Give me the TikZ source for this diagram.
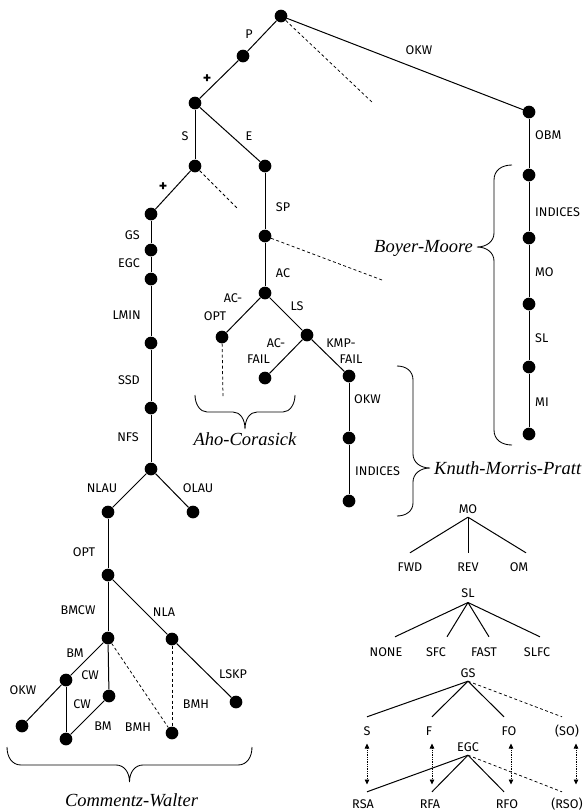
\documentclass[tikz,border=0pt]{standalone}
\usepackage{fontspec}
\newfontfamily\lab{Fira Sans}
\newfontfamily\algfont{Liberation Serif}
\usetikzlibrary{arrows.meta,calc}
\begin{document}
\begin{tikzpicture}[x=1pt,y=-1pt,
  dot/.style={circle,fill,inner sep=0pt,minimum size=12.7pt},
  edge/.style={line width=1pt},
  dsh/.style={line width=0.75pt,dash pattern=on 3pt off 2.5pt},
  lbl/.style={font=\lab\fontsize{12.6}{14}\selectfont,inner sep=0pt},
  plus/.style={font=\lab\fontsize{16}{18}\selectfont\bfseries,inner sep=0pt},
  tn/.style={lbl,text height=8.6pt,text depth=0pt},
  alg/.style={font=\algfont\fontsize{18.5}{21}\selectfont\itshape,inner sep=0pt},
  brc/.style={line width=0.85pt},
  dbl/.style={densely dotted,line width=0.75pt,{Triangle[length=5pt,width=4.5pt]}-{Triangle[length=5pt,width=4.5pt]}}
]
\useasboundingbox (0,0) rectangle (584,812);

% ---------- main tree dots ----------
\node[dot] (r) at (281,16) {};
\node[dot] (nP) at (243,56) {};
\node[dot] (nPlus) at (195,103) {};
\node[dot] (nS) at (195,166) {};
\node[dot] (nE) at (265,166) {};
\node[dot] (nOBM) at (529,112) {};
\node[dot] (nB1) at (529,175) {};
\node[dot] (nB2) at (529,238) {};
\node[dot] (nB3) at (529,304) {};
\node[dot] (nB4) at (529,367) {};
\node[dot] (nB5) at (529,434) {};
\node[dot] (nStar) at (151,214) {};
\node[dot] (nGS) at (151,250) {};
\node[dot] (nEGC) at (151,279) {};
\node[dot] (nLMIN) at (151,343) {};
\node[dot] (nSSD) at (151,408) {};
\node[dot] (nNFS) at (151,469) {};
\node[dot] (nSP) at (265,236) {};
\node[dot] (nAC) at (265,293) {};
\node[dot] (nACOPT) at (222,337) {};
\node[dot] (nLS) at (307,335) {};
\node[dot] (nACFAIL) at (265,378) {};
\node[dot] (nKMPFAIL) at (349,376) {};
\node[dot] (nKOKW) at (349,438) {};
\node[dot] (nKIND) at (349,501) {};
\node[dot] (nNLAU) at (108,512) {};
\node[dot] (nOLAU) at (193,512) {};
\node[dot] (nOPT) at (108,575) {};
\node[dot] (nBMCW) at (108,638) {};
\node[dot] (nNLA) at (172,639) {};
\node[dot] (nBM) at (66,680) {};
\node[dot] (nCW) at (109,696) {};
\node[dot] (nOKWL) at (22,726) {};
\node[dot] (nCWBM) at (66,739) {};
\node[dot] (nBMH) at (172,733) {};
\node[dot] (nLSKP) at (236,702) {};

\coordinate (d1) at (373,103);
\coordinate (d2) at (237,208);
\coordinate (d3) at (382,280);
\coordinate (d4) at (223,397);

% ---------- main tree edges ----------
\draw[edge] (r) -- (nP);
\draw[edge] (nP) -- (nPlus);
\draw[edge] (nPlus) -- (nS);
\draw[edge] (nPlus) -- (nE);
\draw[edge] (r) -- (nOBM);
\draw[dsh] (r) -- (d1);
\draw[edge] (nOBM) -- (nB1) -- (nB2) -- (nB3) -- (nB4) -- (nB5);
\draw[edge] (nS) -- (nStar);
\draw[dsh] (nS) -- (d2);
\draw[edge] (nStar) -- (nGS) -- (nEGC) -- (nLMIN) -- (nSSD) -- (nNFS);
\draw[edge] (nE) -- (nSP);
\draw[dsh] (nSP) -- (d3);
\draw[edge] (nSP) -- (nAC);
\draw[edge] (nAC) -- (nACOPT);
\draw[edge] (nAC) -- (nLS);
\draw[dsh] (nACOPT) -- (d4);
\draw[edge] (nLS) -- (nACFAIL);
\draw[edge] (nLS) -- (nKMPFAIL);
\draw[edge] (nKMPFAIL) -- (nKOKW) -- (nKIND);
\draw[edge] (nNFS) -- (nNLAU);
\draw[edge] (nNFS) -- (nOLAU);
\draw[edge] (nNLAU) -- (nOPT);
\draw[edge] (nOPT) -- (nBMCW);
\draw[edge] (nOPT) -- (nNLA);
\draw[edge] (nBMCW) -- (nBM);
\draw[edge] (nBMCW) -- (nCW);
\draw[dsh] (nBMCW) -- (nBMH);
\draw[dsh] (nNLA) -- (nBMH);
\draw[edge] (nNLA) -- (nLSKP);
\draw[edge] (nBM) -- (nOKWL);
\draw[edge] (nBM) -- (nCWBM);
\draw[edge] (nCW) -- (nCWBM);

% ---------- edge labels ----------
\node[lbl] (lP) at (249,34) {P};
\node[plus] (lPlus1) at (207,79) {+};
\node[lbl] (lS) at (185,136) {S};
\node[lbl] (lE) at (249,136) {E};
\node[lbl] (lOKW) at (419,50) {OKW};
\node[plus] (lPlus2) at (163,187) {+};
\node[lbl] (lSP) at (283,207) {SP};
\node[lbl] (lAC) at (283,273) {AC};
\node[lbl] (lAC1) at (233,298) {AC-};
\node[lbl] (lOPT1) at (215,316) {OPT};
\node[lbl] (lLS) at (297,306) {LS};
\node[lbl] (lAC2) at (276,343) {AC-};
\node[lbl] (lFAIL1) at (258.5,359) {FAIL};
\node[lbl] (lKMP) at (341,343) {KMP-};
\node[lbl] (lFAIL2) at (351,359) {FAIL};
\node[lbl,anchor=west] (lOKW2) at (354,399) {OKW};
\node[lbl,anchor=west] (lIND2) at (355,471) {INDICES};

\node[lbl,anchor=east] (lGS) at (140,235) {GS};
\node[lbl,anchor=east] (lEGC) at (140,263) {EGC};
\node[lbl,anchor=east] (lLMIN) at (141,315) {LMIN};
\node[lbl,anchor=east] (lSSD) at (140,380) {SSD};
\node[lbl,anchor=east] (lNFS) at (139,437) {NFS};

\node[lbl,anchor=west] (lOBM) at (535,135) {OBM};
\node[lbl,anchor=west] (lIND1) at (535,212) {INDICES};
\node[lbl,anchor=west] (lMO) at (535,272) {MO};
\node[lbl,anchor=west] (lSL) at (535,338) {SL};
\node[lbl,anchor=west] (lMI) at (535,402) {MI};

\node[lbl] (lNLAU) at (102,488) {NLAU};
\node[lbl] (lOLAU) at (198,488) {OLAU};
\node[lbl] (lOPT2) at (84,552) {OPT};
\node[lbl] (lBMCW) at (78,610) {BMCW};
\node[lbl] (lNLA) at (164,612) {NLA};
\node[lbl] (lBM1) at (75,653) {BM};
\node[lbl] (lCW1) at (90,675) {CW};
\node[lbl] (lOKW3) at (23,690) {OKW};
\node[lbl] (lCW2) at (82,704) {CW};
\node[lbl] (lBM2) at (103,726) {BM};
\node[lbl] (lBMH1) at (138,727) {BMH};
\node[lbl] (lBMH2) at (196,704) {BMH};
\node[lbl] (lLSKP) at (233,674) {LSKP};

% ---------- braces ----------
\draw[brc] (195,395) .. controls (195,404) and (200,412) .. (207,412) -- (233,412)
  .. controls (240,412) and (245,419) .. (245,429)
  .. controls (245,419) and (250,412) .. (257,412) -- (283,412)
  .. controls (290,412) and (295,404) .. (295,395);
\node[alg,anchor=base] (tAho) at (245,445) {Aho-Corasick};

\draw[brc] (7,747) .. controls (7,757) and (12,765) .. (21,765) -- (116,765)
  .. controls (124,765) and (129.5,772) .. (129.5,782)
  .. controls (129.5,772) and (135,765) .. (143,765) -- (238,765)
  .. controls (247,765) and (252,757) .. (252,747);
\node[alg,anchor=base] (tCW) at (131.5,806) {Commentz-Walter};

\draw[brc] (512,165) .. controls (502,165) and (494,170) .. (494,180) -- (494,233)
  .. controls (494,241) and (487,247) .. (477,247)
  .. controls (487,247) and (494,253) .. (494,261) -- (494,430)
  .. controls (494,440) and (502,445) .. (512,445);
\node[alg,anchor=base east] (tBM) at (473,252) {Boyer-Moore};

\draw[brc] (397,366) .. controls (406,366) and (413,371) .. (413,380) -- (413,454)
  .. controls (413,462) and (420,468) .. (430,468)
  .. controls (420,468) and (413,474) .. (413,482) -- (413,503)
  .. controls (413,511) and (406,516) .. (397,516);
\node[alg,anchor=base west] (tKMP) at (434,474) {Knuth-Morris-Pratt};

% ---------- MO tree ----------
\node[tn] (tMO) at (468,509) {MO};
\node[tn] (tFWD) at (410,567) {FWD};
\node[tn] (tREV) at (468,567) {REV};
\node[tn] (tOM) at (519,567) {OM};
\draw[edge] ([yshift=-3.7pt]tMO.south) -- ([yshift=9.7pt]tFWD.north);
\draw[edge] ([yshift=-3.7pt]tMO.south) -- ([yshift=9.7pt]tREV.north);
\draw[edge] ([yshift=-3.7pt]tMO.south) -- ([xshift=7pt,yshift=9.7pt]tOM.north);

% ---------- SL tree ----------
\node[tn] (tSL) at (468,593) {SL};
\node[tn] (tNONE) at (386,652) {NONE};
\node[tn] (tSFC) at (436,652) {SFC};
\node[tn] (tFAST) at (484,652) {FAST};
\node[tn] (tSLFC) at (537,652) {SLFC};
\draw[edge] ([yshift=-5pt]tSL.south) -- ([xshift=9pt,yshift=10.7pt]tNONE.north);
\draw[edge] ([yshift=-5pt]tSL.south) -- ([xshift=11pt,yshift=10.7pt]tSFC.north);
\draw[edge] ([yshift=-5pt]tSL.south) -- ([xshift=5pt,yshift=10.7pt]tFAST.north);
\draw[edge] ([yshift=-5pt]tSL.south) -- ([xshift=3pt,yshift=10.7pt]tSLFC.north);

% ---------- GS / EGC tree ----------
\node[tn] (tGS) at (468,673) {GS};
\node[tn] (tS) at (367,731) {S};
\node[tn] (tF) at (429,731) {F};
\node[tn] (tFO) at (509,731) {FO};
\node[tn] (tSO) at (567,731) {(SO)};
\draw[edge] ([yshift=-3.7pt]tGS.south) -- ([yshift=9.7pt]tS.north);
\draw[edge] ([yshift=-3.7pt]tGS.south) -- ([xshift=3pt,yshift=9.7pt]tF.north);
\draw[edge] ([yshift=-3.7pt]tGS.south) -- ([xshift=-5pt,yshift=9.7pt]tFO.north);
\draw[dsh] ([yshift=-3.7pt]tGS.south) -- ([xshift=-5pt,yshift=9.7pt]tSO.north);

\node[tn] (tEGC) at (468,747) {EGC};
\node[tn] (tRSA) at (363,804) {RSA};
\node[tn] (tRFA) at (430,804) {RFA};
\node[tn] (tRFO) at (507,804) {RFO};
\node[tn] (tRSO) at (567,804) {(RSO)};
\draw[edge] ([yshift=-3.7pt]tEGC.south) -- ([xshift=4pt,yshift=7.7pt]tRSA.north);
\draw[edge] ([yshift=-3.7pt]tEGC.south) -- ([xshift=2pt,yshift=7.7pt]tRFA.north);
\draw[edge] ([yshift=-3.7pt]tEGC.south) -- ([xshift=-3pt,yshift=7.7pt]tRFO.north);
\draw[dsh] ([yshift=-3.7pt]tEGC.south) -- ([xshift=-5pt,yshift=7.7pt]tRSO.north);

\draw[dbl] ($(tS.south)+(0,8)$) -- ($(tS.south |- tRSA.north)+(0,-15)$);
\draw[dbl] ($(tF.south)+(3,8)$) -- ($(tF.south |- tRFA.north)+(3,-15)$);
\draw[dbl] ($(tFO.south)+(2,8)$) -- ($(tFO.south |- tRFO.north)+(2,-15)$);
\draw[dbl] ($(tSO.south)+(9,8)$) -- ($(tSO.south |- tRSO.north)+(9,-15)$);

\end{tikzpicture}
\end{document}
